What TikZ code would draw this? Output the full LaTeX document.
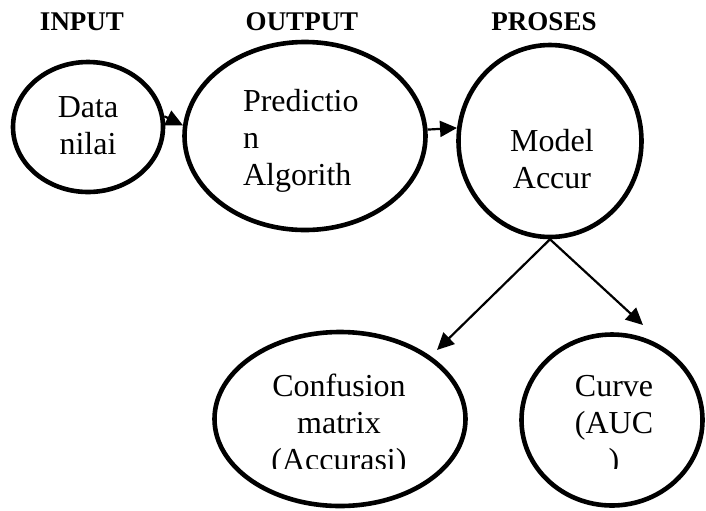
\documentclass[tikz,border=0pt]{standalone}
\usepackage{fontspec}
\setmainfont{Liberation Serif}
\usetikzlibrary{shapes.geometric,arrows.meta}

\tikzset{
  bubble/.style={draw, ellipse, line width=2.3pt, inner sep=0pt},
  txt/.style={align=center, inner sep=0pt, font=\fontsize{16}{18.5}\selectfont},
  head/.style={font=\fontsize{13.5}{16}\selectfont\bfseries, inner sep=0pt},
  flow/.style={line width=1.1pt, -{Triangle[length=8.5pt,width=8pt]}}
}

\begin{document}
\begin{tikzpicture}[x=0.5pt,y=-0.5pt]
    \useasboundingbox (0,0) rectangle (706,510);

    % Headings
    \node[head] (input) at (82,22) {INPUT};
    \node[head] (output) at (302,22) {OUTPUT};
    \node[head] (proses) at (544,22) {PROSES};

    % Ellipses
    \node[bubble, minimum width=75pt, minimum height=65pt] (data) at (88,127) {};
    \node[bubble, minimum width=120.5pt, minimum height=94pt] (pred) at (305,136) {};
    \node[bubble, minimum width=91.5pt, minimum height=96pt] (model) at (550,141) {};
    \node[bubble, minimum width=125.5pt, minimum height=87pt] (conf) at (340,419) {};
    \node[bubble, minimum width=90.5pt, minimum height=85.5pt] (curve) at (612,420) {};

    % Texts
    \node[txt] (data-t) at (88,126) {Data\\nilai};
    \node[txt, align=left, text width=62pt] (pred-t) at (305,141) {Predictio\\n\\Algorith};
    \node[txt] (model-t) at (552,159) {Model\\Accur};
    \begin{scope}
        \clip (0,0) rectangle (706,468);
        \node[txt] (conf-t) at (339,426) {Confusion\\matrix\\(Accurasi)};
        \node[txt] (curve-t) at (614,426) {Curve\\(AUC\\)};
    \end{scope}

    % Arrows
    \coordinate (conf-in) at (437,350);
    \coordinate (curve-in) at (643,325);
    \draw[flow] (data.8) -- (pred.175);
    \draw[flow] (pred.3) -- (model.172);
    \draw[flow] (model.south) -- (conf-in);
    \draw[flow] (model.south) -- (curve-in);
\end{tikzpicture}
\end{document}
